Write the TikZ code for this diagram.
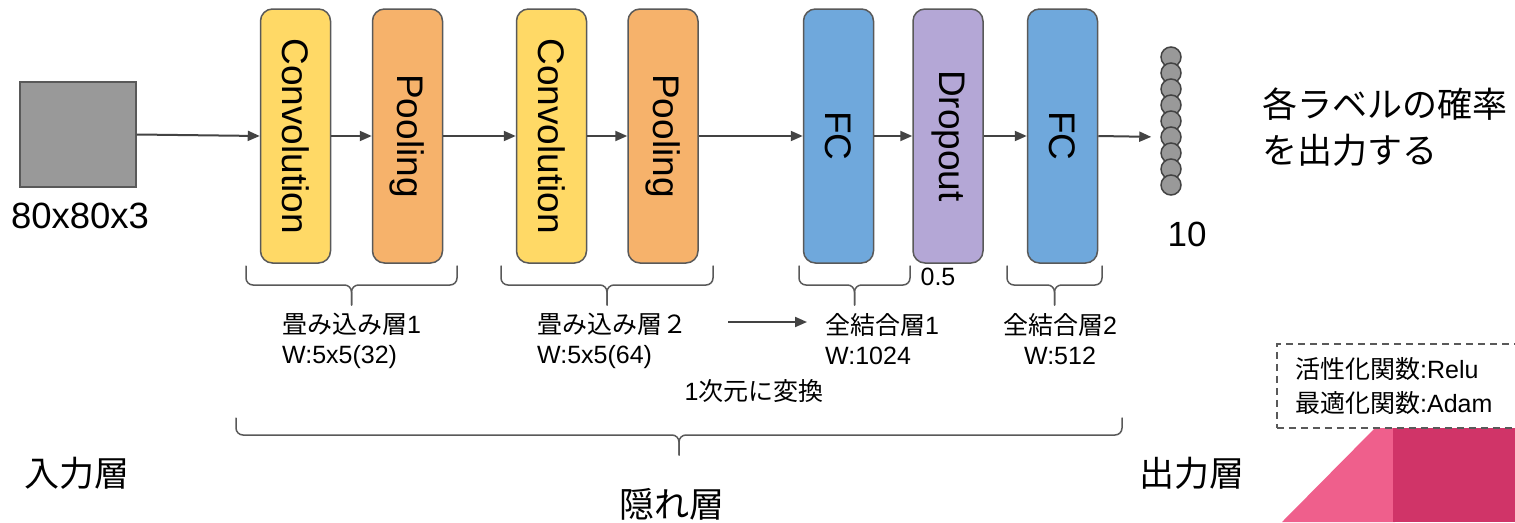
\documentclass[tikz,border=0pt]{standalone}
\usepackage{fontspec}
\setmainfont{Liberation Sans}
\newfontfamily\jp{Noto Sans CJK JP}
\usetikzlibrary{arrows.meta}
\definecolor{convc}{HTML}{FFD966}
\definecolor{poolc}{HTML}{F6B26B}
\definecolor{fcc}{HTML}{6FA8DC}
\definecolor{dropc}{HTML}{B4A7D6}
\definecolor{edgec}{HTML}{595959}
\definecolor{arrc}{HTML}{434343}
\definecolor{graybox}{HTML}{999999}
\definecolor{pinkl}{HTML}{EF5F8C}
\definecolor{pinkd}{HTML}{D03468}
\newcommand\mybrace[5]{%
  \draw[brc] (#1,#3) -- (#1,#4) -- ({(#1+#2)/2},#4) -- ({(#1+#2)/2},#5);
  \draw[brc] (#2,#3) -- (#2,#4) -- ({(#1+#2)/2},#4) -- ({(#1+#2)/2},#5);}
\begin{document}
\begin{tikzpicture}[x=1pt,y=-1pt,
  layer/.style={draw=edgec,line width=1.5pt,rounded corners=12pt,minimum width=70pt,minimum height=254pt,inner sep=0pt,font=\fontsize{37}{40}\selectfont},
  conn/.style={draw=arrc,line width=2pt,-{Triangle[length=12pt,width=10pt]}},
  brc/.style={draw=edgec,line width=1.5pt,rounded corners=7pt,line cap=round},
  small/.style={font=\fontsize{25}{30}\selectfont,inner sep=0pt},
  legendtxt/.style={font=\fontsize{25}{34}\selectfont,inner sep=0pt},
  big/.style={font=\fontsize{35}{46}\selectfont,inner sep=0pt},
  unit/.style={circle,draw=arrc,line width=1.5pt,fill=graybox,minimum size=20pt,inner sep=0pt}
]
\clip (0,0) rectangle (1515,522);
\fill[white] (0,0) rectangle (1515,522);

% decorative corner shapes
\fill[pinkl] (1282,522) -- (1375,428) -- (1395,428) -- (1395,522) -- cycle;
\fill[pinkd] (1393,428) rectangle (1515,522);

% input
\node[draw=edgec,line width=1.5pt,fill=graybox,minimum width=116pt,minimum height=105pt,inner sep=0pt] (inp) at (78,134.5) {};
\node[big,font=\fontsize{36.5}{46}\selectfont] (inlbl) at (80,216) {80x80x3};

% layers
\node[layer,fill=convc] (conv1) at (295.5,136) {\rotatebox{-90}{Convolution}};
\node[layer,fill=poolc] (pool1) at (407.5,136) {\rotatebox{-90}{Pooling}};
\node[layer,fill=convc] (conv2) at (551.5,136) {\rotatebox{-90}{Convolution}};
\node[layer,fill=poolc] (pool2) at (663,136) {\rotatebox{-90}{Pooling}};
\node[layer,fill=fcc] (fc1) at (838.5,136) {\rotatebox{-90}{FC}};
\node[layer,fill=dropc] (drop) at (948,136) {\rotatebox{-90}{Dropout}};
\node[layer,fill=fcc] (fc2) at (1062.5,136) {\rotatebox{-90}{FC}};

% output units
\foreach \i in {1,...,9} \node[unit] (o\i) at (1171,{57+16*(\i-1)}) {};

% connectors
\draw[conn] (inp.east) -- (conv1.west);
\draw[conn] (conv1.east) -- (pool1.west);
\draw[conn] (pool1.east) -- (conv2.west);
\draw[conn] (conv2.east) -- (pool2.west);
\draw[conn] (pool2.east) -- (fc1.west);
\draw[conn] (fc1.east) -- (drop.west);
\draw[conn] (drop.east) -- (fc2.west);
\draw[conn,shorten >=9pt] (fc2.east) -- (o6.west);

% braces
\mybrace{246}{457}{266}{285}{305}
\mybrace{501}{713}{266}{285}{305}
\mybrace{799}{910}{266}{285}{305}
\mybrace{1007}{1102}{266}{285}{305}
\mybrace{236}{1122}{418}{435}{455}

% labels
\node[small,align=left,anchor=west] (l1) at (282,341) {{\jp 畳み込み層}1\\W:5x5(32)};
\node[small,align=left,anchor=west] (l2) at (537,341) {{\jp 畳み込み層２}\\W:5x5(64)};
\node[small,align=left,anchor=west] (l3) at (825,339) {{\jp 全結合層}1\\W:1024};
\node[small,align=center] (l4) at (1060,339) {{\jp 全結合層}2\\W:512};
\node[small] (l5) at (754,391) {1{\jp 次元に変換}};
\coordinate (fa) at (728,322);
\coordinate (fb) at (807,322);
\draw[conn] (fa) -- (fb);
\node[small] (drp) at (938,277) {0.5};
\node[big] (ten) at (1187,234) {10};
\node[big] (inl) at (77,473) {\jp 入力層};
\node[big] (hid) at (672,504) {\jp 隠れ層};
\node[big] (outl) at (1192,473) {\jp 出力層};
\node[big,align=left,anchor=west] (prob) at (1262,127) {{\jp 各ラベルの確率}\\{\jp を出力する}};

% legend
\node[draw=edgec,line width=1.5pt,dash pattern=on 7pt off 5pt,anchor=north west,minimum width=254pt,minimum height=84pt,inner sep=0pt] (legend) at (1276,343) {};
\node[legendtxt,align=left,anchor=west] (fn) at (1295,386) {{\jp 活性化関数}:Relu\\{\jp 最適化関数}:Adam};
\end{tikzpicture}
\end{document}
